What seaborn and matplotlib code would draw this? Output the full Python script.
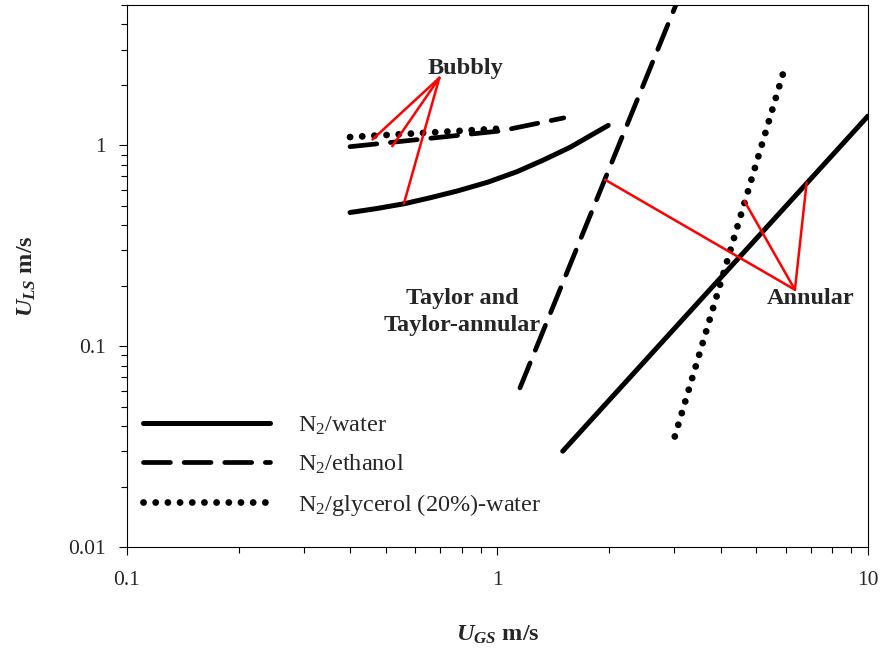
import matplotlib
matplotlib.use("Agg")
import matplotlib.pyplot as plt
from matplotlib.ticker import FixedLocator, FixedFormatter, NullFormatter, LogLocator
import pandas as pd
import seaborn as sns

# Flow-regime transition boundaries (superficial velocities, m/s)
water_bubbly_ugs = [0.40, 0.47, 0.56, 0.66, 0.78, 0.94, 1.13, 1.33, 1.57, 1.99]
water_bubbly_uls = [0.463, 0.484, 0.512, 0.549, 0.593, 0.655, 0.740, 0.845, 0.978, 1.257]
water_annular_ugs = [1.5, 10.0]
water_annular_uls = [0.030, 1.40]

ethanol_bubbly_ugs = [0.40, 1.02, 1.51]
ethanol_bubbly_uls = [0.985, 1.18, 1.37]
ethanol_annular_ugs = [1.15, 3.03]
ethanol_annular_uls = [0.062, 5.0]

glycerol_bubbly_ugs = [0.40, 1.0]
glycerol_bubbly_uls = [1.10, 1.21]
glycerol_annular_ugs = [3.01, 6.0]
glycerol_annular_uls = [0.0355, 2.53]

series_labels = ["N$_2$/water", "N$_2$/ethanol", "N$_2$/glycerol (20%)-water"]

x_ticks = [0.1, 1, 10]
x_tick_labels = ["0.1", "1", "10"]
y_ticks = [0.01, 0.1, 1]
y_tick_labels = ["0.01", "0.1", "1"]

# Regime names, where their pointers start and the boundary points they reach
bubbly_text_pos = (0.82, 2.42)
bubbly_anchor = (0.697, 2.17)
bubbly_targets_ugs = [0.46, 0.52, 0.559]
bubbly_targets_uls = [1.07, 0.99, 0.513]

annular_text_pos = (7.01, 0.1726)
annular_anchor = (6.35, 0.191)
annular_targets_ugs = [1.95, 4.64, 6.83]
annular_targets_uls = [0.675, 0.528, 0.652]

taylor_text_pos = (0.804, 0.1476)

sns.set_style("ticks")
plt.rcParams.update({
    "font.family": ["Liberation Serif", "DejaVu Serif"],
    "mathtext.fontset": "custom",
    "mathtext.rm": "Liberation Serif",
    "mathtext.it": "Liberation Serif:italic:bold",
    "mathtext.bf": "Liberation Serif:bold",
    "axes.edgecolor": "black",
    "axes.linewidth": 0.8,
})

fig = plt.figure(figsize=(8.83, 6.5), dpi=100)
ax = fig.add_axes([0.1438, 0.1585, 0.8392, 0.8338])

styles = {
    "water": dict(color="black", lw=3.6, linestyle="-", solid_capstyle="round",
                  solid_joinstyle="round"),
    "ethanol": dict(color="black", lw=3.4, linestyle=(0, (5.7, 2.9)), dash_capstyle="round"),
    "glycerol": dict(color="black", lw=4.9, linestyle=(0, (0.01, 1.78)), dash_capstyle="round"),
}

segments = [
    ("water", water_bubbly_ugs, water_bubbly_uls),
    ("water", water_annular_ugs, water_annular_uls),
    ("ethanol", ethanol_bubbly_ugs, ethanol_bubbly_uls),
    ("ethanol", ethanol_annular_ugs, ethanol_annular_uls),
    ("glycerol", glycerol_bubbly_ugs, glycerol_bubbly_uls),
    ("glycerol", glycerol_annular_ugs, glycerol_annular_uls),
]

handles = {}
for fluid, ugs, uls in segments:
    df = pd.DataFrame({"ugs": ugs, "uls": uls})
    sns.lineplot(data=df, x="ugs", y="uls", ax=ax, legend=False,
                 estimator=None, sort=True, **styles[fluid])
    handles.setdefault(fluid, ax.lines[-1])

# Red pointers from regime names to the boundaries
for tx, ty in zip(bubbly_targets_ugs, bubbly_targets_uls):
    ax.plot([bubbly_anchor[0], tx], [bubbly_anchor[1], ty], color="#ff0000", lw=1.8, zorder=3)
for tx, ty in zip(annular_targets_ugs, annular_targets_uls):
    ax.plot([annular_anchor[0], tx], [annular_anchor[1], ty], color="#ff0000", lw=1.8, zorder=3)

label_kw = dict(fontsize=17.5, fontweight="bold", ha="center", va="center", zorder=4)
ax.text(*bubbly_text_pos, "Bubbly", **label_kw)
ax.text(*annular_text_pos, "Annular", **label_kw)
ax.text(*taylor_text_pos, "Taylor and\nTaylor-annular", multialignment="center",
        linespacing=1.35, **label_kw)

ax.set_xscale("log")
ax.set_yscale("log")
ax.set_xlim(0.1, 10)
ax.set_ylim(0.01, 5)

ax.xaxis.set_major_locator(FixedLocator(x_ticks))
ax.xaxis.set_major_formatter(FixedFormatter(x_tick_labels))
ax.yaxis.set_major_locator(FixedLocator(y_ticks))
ax.yaxis.set_major_formatter(FixedFormatter(y_tick_labels))
ax.xaxis.set_minor_locator(LogLocator(base=10, subs=range(2, 10)))
ax.yaxis.set_minor_locator(LogLocator(base=10, subs=range(2, 10)))
ax.xaxis.set_minor_formatter(NullFormatter())
ax.yaxis.set_minor_formatter(NullFormatter())

ax.tick_params(which="major", direction="out", length=6, width=0.8, labelsize=15.5, color="black")
ax.tick_params(axis="x", which="major", pad=11)
ax.tick_params(axis="y", which="major", pad=9.5)
ax.tick_params(which="minor", direction="out", length=4, width=0.8, color="black")
for sp in ax.spines.values():
    sp.set_visible(True)
    sp.set_color("black")
    sp.set_linewidth(0.8)

ax.set_xlabel("$U_{GS}$ m/s", fontsize=17.5, fontweight="bold")
ax.set_ylabel("$U_{LS}$ m/s", fontsize=17.5, fontweight="bold")
ax.xaxis.set_label_coords(0.5, -0.142)
ax.yaxis.set_label_coords(-0.12, 0.5)

ax.legend([handles["water"], handles["ethanol"], handles["glycerol"]], series_labels,
          loc="upper left", bbox_to_anchor=(0.0216, 0.244), frameon=False,
          borderpad=0, borderaxespad=0, handlelength=5.23, handletextpad=1.15,
          labelspacing=0.65, fontsize=17.5)

fig.savefig("out.png", dpi=100, facecolor="white")
